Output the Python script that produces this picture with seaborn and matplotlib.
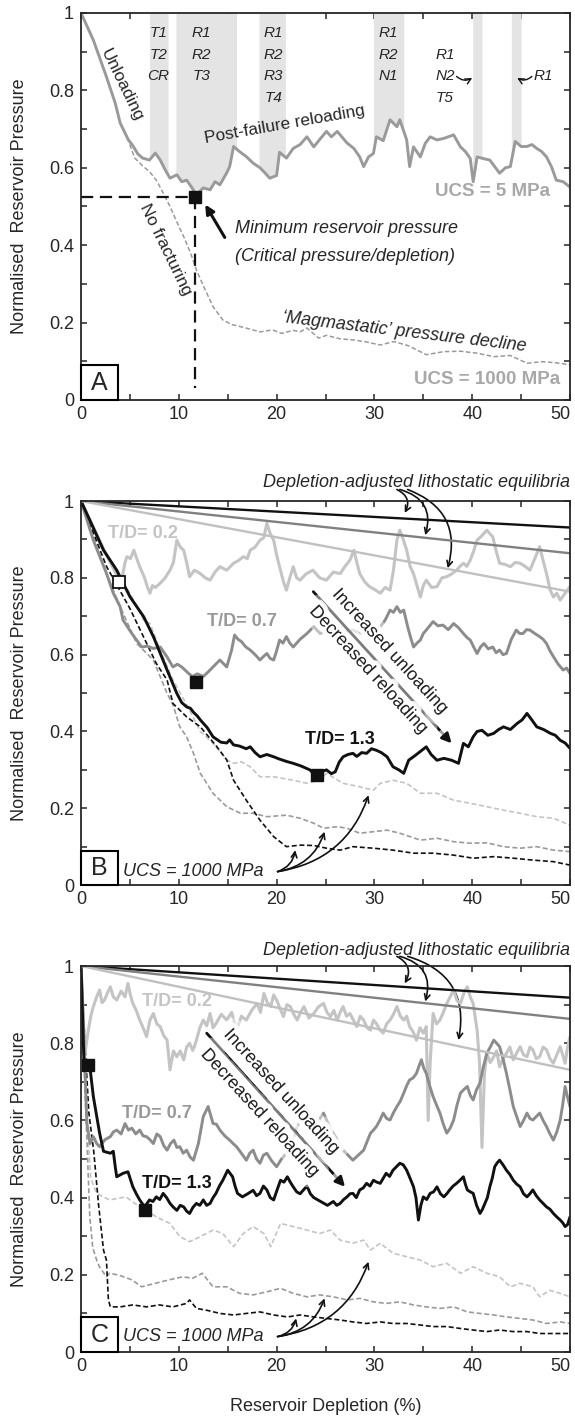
import numpy as np
import matplotlib
matplotlib.use("Agg")
import matplotlib.pyplot as plt
import matplotlib.patheffects as pe
from matplotlib.patches import Rectangle
import seaborn as sns

# ---------------------------------------------------------------- data
X_TICKS = [0, 10, 20, 30, 40, 50]
X_MINOR = [5, 15, 25, 35, 45]
Y_TICKS = [0, 0.2, 0.4, 0.6, 0.8, 1.0]
Y_MINOR = [0.1, 0.3, 0.5, 0.7, 0.9]
Y_TICK_LABELS = ["0", "0.2", "0.4", "0.6", "0.8", "1"]
X_TICK_LABELS = ["0", "10", "20", "30", "40", "50"]

# Panel A: UCS = 5 MPa reservoir pressure path (depletion %, normalised pressure)
A_UCS5 = [(0, 1.0), (1.26, 0.93), (2.6, 0.835), (3.5, 0.767), (4.0, 0.716), (4.5, 0.69),
          (4.8, 0.674), (5.3, 0.657), (5.8, 0.636), (6.3, 0.625), (7.0, 0.62), (7.6, 0.638),
          (8.1, 0.62), (8.6, 0.595), (9.1, 0.573), (9.8, 0.582), (10.3, 0.564), (10.8, 0.568),
          (11.3, 0.55), (11.8, 0.53), (12.5, 0.548), (13.2, 0.543), (13.7, 0.564), (14.2, 0.556),
          (14.9, 0.587), (15.2, 0.603), (15.6, 0.655), (16.2, 0.642), (16.9, 0.629), (17.6, 0.612),
          (18.3, 0.60), (18.8, 0.587), (19.3, 0.573), (20.0, 0.58), (20.3, 0.64), (21.0, 0.625),
          (21.7, 0.65), (22.4, 0.66), (23.1, 0.68), (23.8, 0.654), (24.5, 0.676), (25.1, 0.694),
          (25.6, 0.68), (26.2, 0.694), (27.2, 0.664), (27.9, 0.65), (28.5, 0.628), (28.9, 0.603),
          (29.4, 0.628), (29.9, 0.637), (30.2, 0.68), (30.9, 0.67), (31.6, 0.724), (32.3, 0.706),
          (32.6, 0.724), (33.3, 0.672), (33.6, 0.603), (34.0, 0.654), (34.7, 0.628), (35.2, 0.663),
          (35.7, 0.68), (36.4, 0.672), (37.1, 0.676), (38.1, 0.685), (38.8, 0.654), (39.3, 0.642),
          (39.8, 0.624), (40.1, 0.564), (40.5, 0.628), (41.1, 0.624), (41.8, 0.62), (42.3, 0.603),
          (42.8, 0.586), (43.4, 0.60), (43.9, 0.603), (44.4, 0.668), (45.0, 0.655), (45.6, 0.655),
          (46.1, 0.66), (46.6, 0.65), (47.1, 0.642), (47.6, 0.628), (48.1, 0.603), (48.6, 0.568),
          (49.3, 0.564), (50.0, 0.55)]

# Panel A: UCS = 1000 MPa (no fracturing) pressure path
A_UCS1000 = [(0, 1.0), (1.26, 0.93), (2.6, 0.835), (3.5, 0.767), (4.0, 0.716), (4.8, 0.672),
             (5.5, 0.625), (6.3, 0.605), (7.0, 0.59), (7.7, 0.568), (8.4, 0.535), (9.1, 0.50),
             (9.8, 0.46), (10.5, 0.422), (11.2, 0.38), (11.8, 0.336), (12.6, 0.29), (13.5, 0.241),
             (14.5, 0.207), (15.4, 0.195), (16.4, 0.189), (17.3, 0.183), (18.3, 0.176), (19.6, 0.181),
             (20.5, 0.172), (21.7, 0.18), (22.4, 0.176), (23.1, 0.186), (24.3, 0.16), (25.1, 0.167),
             (26.5, 0.158), (27.9, 0.155), (29.2, 0.15), (30.6, 0.142), (32.0, 0.151), (33.5, 0.14),
             (35.3, 0.117), (37.1, 0.125), (38.8, 0.126), (40.5, 0.121), (42.2, 0.112), (43.9, 0.115),
             (45.6, 0.095), (47.2, 0.099), (48.6, 0.096), (50.0, 0.091)]

A_CRITICAL = (11.7, 0.525)
A_BANDS = [(7.0, 8.9), (9.7, 15.9), (18.2, 20.9), (29.9, 33.0), (40.05, 41.0), (44.0, 45.0)]
A_BAND_TAGS = [(7.9, 0, ["T1", "T2", "CR"]),
               (12.3, 0, ["R1", "R2", "T3"]),
               (19.7, 0, ["R1", "R2", "R3", "T4"]),
               (31.4, 0, ["R1", "R2", "N1"]),
               (37.2, 1, ["R1", "N2", "T5"])]
TAG_ROWS = [0.948, 0.892, 0.836, 0.780]

# Panel B: fracture paths for three T/D ratios
B_TD02 = [(0, 1.0), (1.3, 0.93), (2.6, 0.86), (3.9, 0.795), (4.2, 0.80), (4.5, 0.84),
          (4.7, 0.855), (5.05, 0.85), (5.4, 0.872), (5.7, 0.85), (6.0, 0.829), (6.5, 0.80),
          (6.8, 0.775), (7.05, 0.76), (7.3, 0.78), (7.6, 0.775), (8.1, 0.786), (8.6, 0.80),
          (9.1, 0.82), (9.45, 0.84), (9.8, 0.898), (10.15, 0.88), (10.5, 0.872), (10.8, 0.84),
          (11.1, 0.803), (11.6, 0.82), (12.2, 0.811), (12.7, 0.80), (13.2, 0.794), (13.7, 0.815),
          (14.2, 0.829), (14.9, 0.82), (15.6, 0.838), (16.1, 0.845), (16.6, 0.855), (17.0, 0.85),
          (17.3, 0.872), (17.8, 0.88), (18.3, 0.898), (18.7, 0.905), (19.0, 0.942), (19.35, 0.915),
          (19.7, 0.898), (20.0, 0.86), (20.3, 0.829), (20.7, 0.79), (21.0, 0.768), (21.35, 0.80),
          (21.7, 0.829), (22.05, 0.80), (22.4, 0.794), (23.0, 0.81), (23.7, 0.82), (24.4, 0.80),
          (25.1, 0.794), (25.8, 0.815), (26.5, 0.811), (27.0, 0.83), (27.5, 0.846), (27.9, 0.872),
          (28.2, 0.84), (28.5, 0.811), (29.0, 0.79), (29.5, 0.777), (30.0, 0.77), (30.6, 0.76),
          (31.1, 0.775), (31.6, 0.768), (31.95, 0.82), (32.3, 0.898), (32.6, 0.924), (32.95, 0.90),
          (33.3, 0.872), (33.65, 0.83), (34.0, 0.811), (34.35, 0.78), (34.7, 0.75), (35.0, 0.78),
          (35.3, 0.794), (35.85, 0.775), (36.4, 0.777), (36.9, 0.80), (37.4, 0.803), (37.9, 0.81),
          (38.4, 0.82), (38.75, 0.83), (39.1, 0.838), (39.45, 0.83), (39.8, 0.846), (40.15, 0.87),
          (40.5, 0.898), (41.0, 0.91), (41.5, 0.924), (41.8, 0.915), (42.1, 0.907), (42.45, 0.87),
          (42.8, 0.838), (43.35, 0.835), (43.9, 0.829), (44.4, 0.84), (44.9, 0.838), (45.4, 0.83),
          (45.9, 0.82), (46.4, 0.85), (46.9, 0.881), (47.25, 0.845), (47.6, 0.811), (47.95, 0.77),
          (48.3, 0.75), (48.65, 0.76), (49.0, 0.742), (49.5, 0.76), (50.0, 0.777)]
B_TD07 = [(0, 1.0), (1.26, 0.898), (2.6, 0.812), (3.3, 0.76), (4.0, 0.725), (4.3, 0.69),
          (5.2, 0.655), (6.2, 0.62), (6.8, 0.622), (7.4, 0.616), (8.1, 0.62), (8.8, 0.594),
          (9.4, 0.568), (9.85, 0.575), (10.3, 0.568), (11.0, 0.551), (11.4, 0.543), (11.9, 0.55),
          (12.5, 0.543), (13.0, 0.555), (13.5, 0.568), (14.2, 0.586), (14.9, 0.568), (15.4, 0.612),
          (15.7, 0.651), (16.05, 0.64), (16.4, 0.634), (16.85, 0.62), (17.3, 0.612), (17.8, 0.6),
          (18.3, 0.586), (18.65, 0.595), (19.0, 0.603), (19.35, 0.59), (19.7, 0.586), (20.0, 0.61),
          (20.3, 0.638), (20.65, 0.63), (21.0, 0.647), (21.35, 0.63), (21.7, 0.62), (22.4, 0.64),
          (23.1, 0.655), (23.8, 0.673), (24.45, 0.655), (25.1, 0.66), (25.8, 0.665), (26.5, 0.673),
          (27.15, 0.66), (27.8, 0.664), (28.5, 0.655), (29.2, 0.66), (29.9, 0.665), (30.6, 0.673),
          (31.1, 0.69), (31.6, 0.716), (31.95, 0.71), (32.3, 0.725), (32.65, 0.71), (33.0, 0.716),
          (33.4, 0.673), (33.7, 0.645), (34.0, 0.62), (34.35, 0.63), (34.7, 0.638), (35.0, 0.655),
          (35.3, 0.664), (35.65, 0.675), (36.0, 0.686), (36.5, 0.675), (37.0, 0.677), (37.55, 0.665),
          (38.1, 0.681), (38.6, 0.67), (39.1, 0.655), (39.45, 0.645), (39.8, 0.638), (40.15, 0.62),
          (40.5, 0.603), (40.85, 0.62), (41.2, 0.629), (41.65, 0.615), (42.1, 0.62), (42.45, 0.605),
          (42.8, 0.612), (43.15, 0.6), (43.5, 0.603), (44.0, 0.64), (44.5, 0.664), (44.85, 0.655),
          (45.2, 0.655), (45.55, 0.665), (45.9, 0.664), (46.4, 0.655), (46.9, 0.647), (47.25, 0.64),
          (47.6, 0.629), (47.95, 0.61), (48.3, 0.595), (48.8, 0.575), (49.3, 0.56), (49.65, 0.565),
          (50.0, 0.551)]
B_TD13 = [(0, 1.0), (2.3, 0.872), (3.65, 0.82), (5.0, 0.751), (6.4, 0.699), (7.4, 0.647),
          (8.8, 0.56), (9.8, 0.499), (10.3, 0.475), (10.8, 0.464), (11.2, 0.46), (11.5, 0.45),
          (11.9, 0.44), (12.2, 0.43), (12.9, 0.41), (13.5, 0.386), (14.3, 0.372), (14.9, 0.37),
          (15.2, 0.378), (15.6, 0.365), (16.2, 0.362), (16.9, 0.355), (17.3, 0.36), (17.8, 0.345),
          (18.3, 0.334), (19.0, 0.34), (19.7, 0.334), (20.3, 0.328), (21.0, 0.322), (21.7, 0.317),
          (22.5, 0.31), (23.4, 0.30), (24.1, 0.282), (24.6, 0.295), (25.1, 0.30), (25.6, 0.29),
          (26.0, 0.295), (26.4, 0.32), (26.8, 0.334), (27.3, 0.34), (27.8, 0.343), (28.2, 0.335),
          (28.7, 0.345), (29.2, 0.343), (29.7, 0.355), (30.2, 0.351), (30.7, 0.345), (31.3, 0.334),
          (31.9, 0.308), (32.5, 0.30), (33.0, 0.291), (33.5, 0.325), (34.2, 0.338), (34.8, 0.35),
          (35.3, 0.36), (35.8, 0.34), (36.4, 0.325), (37.1, 0.33), (37.9, 0.325), (38.6, 0.317),
          (39.1, 0.369), (39.6, 0.36), (40.1, 0.386), (40.5, 0.40), (41.0, 0.403), (41.6, 0.39),
          (42.2, 0.395), (42.7, 0.405), (43.2, 0.412), (43.9, 0.405), (44.6, 0.421), (45.1, 0.43),
          (45.6, 0.447), (46.1, 0.43), (46.6, 0.412), (47.3, 0.405), (48.0, 0.395), (48.5, 0.39),
          (49.0, 0.377), (49.5, 0.37), (50.0, 0.356)]
B_UCS_LIGHT = [(0, 1.0), (3.0, 0.84), (5.0, 0.76), (6.4, 0.69), (7.05, 0.681), (8.1, 0.612),
               (9.4, 0.534), (10.8, 0.47), (12.2, 0.40), (13.5, 0.369), (14.9, 0.326), (15.6, 0.317),
               (16.4, 0.321), (17.3, 0.308), (18.3, 0.282), (19.7, 0.282), (21.7, 0.273), (23.1, 0.265),
               (24.4, 0.273), (25.1, 0.291), (26.8, 0.265), (28.5, 0.256), (29.9, 0.247), (30.6, 0.265),
               (31.9, 0.273), (33.3, 0.265), (34.7, 0.239), (36.4, 0.239), (38.1, 0.221), (39.8, 0.213),
               (41.5, 0.204), (43.2, 0.195), (44.9, 0.187), (46.6, 0.178), (48.3, 0.174), (50.0, 0.156)]
B_UCS_MID = [(0, 1.0), (2.6, 0.81), (4.0, 0.725), (5.7, 0.629), (7.4, 0.586), (8.8, 0.499),
             (9.4, 0.47), (10.1, 0.412), (10.8, 0.386), (11.5, 0.343), (12.2, 0.291), (13.5, 0.239),
             (14.9, 0.204), (16.3, 0.187), (17.6, 0.187), (19.0, 0.178), (21.0, 0.182), (22.4, 0.174),
             (23.8, 0.161), (24.8, 0.148), (26.2, 0.152), (27.2, 0.148), (28.5, 0.135), (29.9, 0.139),
             (31.3, 0.143), (32.6, 0.135), (34.7, 0.117), (36.4, 0.122), (38.1, 0.113), (39.8, 0.109),
             (41.5, 0.11), (43.2, 0.10), (44.9, 0.096), (46.6, 0.10), (48.3, 0.091), (50.0, 0.087)]
B_UCS_DARK = [(0, 1.0), (2.6, 0.83), (5.0, 0.72), (7.7, 0.577), (8.8, 0.534), (9.4, 0.473),
              (10.8, 0.438), (12.2, 0.412), (13.9, 0.36), (14.9, 0.326), (15.6, 0.273), (16.9, 0.221),
              (18.3, 0.169), (19.7, 0.126), (21.0, 0.10), (22.4, 0.104), (23.8, 0.103), (25.1, 0.096),
              (26.5, 0.091), (27.8, 0.10), (29.9, 0.096), (31.9, 0.091), (34.0, 0.083), (36.0, 0.083),
              (38.1, 0.078), (40.1, 0.07), (42.2, 0.074), (44.2, 0.07), (46.2, 0.065), (48.3, 0.061),
              (50.0, 0.052)]
B_LITHO_END = [0.931, 0.864, 0.764]
B_MARK_OPEN = [(3.9, 0.79)]
B_MARK_FILLED = [(11.8, 0.53), (24.1, 0.286)]

# Panel C: fracture paths for three T/D ratios
C_TD02 = [(0, 1.0), (0.4, 0.774), (0.75, 0.834), (1.0, 0.87), (1.26, 0.895), (1.6, 0.92),
          (1.9, 0.938), (2.15, 0.905), (2.4, 0.912), (2.7, 0.93), (3.0, 0.946), (3.3, 0.92),
          (3.65, 0.912), (4.1, 0.935), (4.5, 0.92), (4.8, 0.955), (5.05, 0.925), (5.3, 0.903),
          (5.65, 0.885), (6.0, 0.86), (6.35, 0.84), (6.7, 0.817), (7.05, 0.86), (7.4, 0.877),
          (7.75, 0.85), (8.1, 0.843), (8.45, 0.82), (8.8, 0.808), (9.1, 0.731), (9.45, 0.78),
          (9.8, 0.765), (10.15, 0.78), (10.5, 0.757), (10.8, 0.79), (11.1, 0.80), (11.45, 0.78),
          (11.8, 0.808), (12.15, 0.84), (12.5, 0.86), (12.85, 0.845), (13.2, 0.877), (13.5, 0.84),
          (13.8, 0.851), (14.35, 0.875), (14.9, 0.86), (15.4, 0.88), (15.9, 0.834), (16.4, 0.87),
          (16.9, 0.86), (17.45, 0.885), (18.0, 0.903), (18.35, 0.88), (18.7, 0.929), (19.05, 0.905),
          (19.4, 0.895), (19.7, 0.925), (20.0, 0.912), (20.35, 0.89), (20.7, 0.869), (21.05, 0.90),
          (21.4, 0.895), (21.75, 0.875), (22.1, 0.86), (22.45, 0.88), (22.8, 0.895), (23.3, 0.865),
          (23.8, 0.877), (24.3, 0.895), (24.8, 0.903), (25.15, 0.88), (25.5, 0.869), (25.85, 0.885),
          (26.2, 0.86), (26.5, 0.88), (26.8, 0.895), (27.15, 0.87), (27.5, 0.877), (27.85, 0.86),
          (28.2, 0.843), (28.55, 0.87), (28.9, 0.86), (29.25, 0.84), (29.6, 0.834), (29.9, 0.86),
          (30.2, 0.851), (30.55, 0.835), (30.9, 0.826), (31.25, 0.85), (31.6, 0.86), (31.95, 0.875),
          (32.3, 0.895), (32.65, 0.87), (33.0, 0.86), (33.3, 0.87), (33.6, 0.843), (33.95, 0.83),
          (34.3, 0.808), (34.65, 0.84), (35.0, 0.826), (35.3, 0.843), (35.5, 0.60), (35.7, 0.748),
          (36.0, 0.877), (36.35, 0.85), (36.7, 0.86), (37.05, 0.88), (37.4, 0.903), (37.75, 0.92),
          (38.1, 0.938), (38.45, 0.91), (38.8, 0.903), (39.15, 0.93), (39.5, 0.946), (39.8, 0.92),
          (40.1, 0.903), (40.5, 0.834), (40.75, 0.75), (41.0, 0.53), (41.25, 0.72), (41.5, 0.774),
          (41.85, 0.75), (42.2, 0.765), (42.5, 0.78), (42.8, 0.739), (43.15, 0.76), (43.5, 0.774),
          (43.85, 0.79), (44.2, 0.757), (44.55, 0.775), (44.9, 0.791), (45.25, 0.77), (45.6, 0.765),
          (45.9, 0.79), (46.2, 0.783), (46.55, 0.76), (46.9, 0.765), (47.25, 0.79), (47.6, 0.783),
          (47.95, 0.76), (48.3, 0.748), (48.65, 0.77), (49.0, 0.791), (49.25, 0.77), (49.5, 0.748),
          (49.75, 0.79), (50.0, 0.817)]
C_TD07 = [(0, 1.0), (0.24, 0.852), (0.6, 0.592), (0.92, 0.54), (1.26, 0.558), (1.6, 0.54),
          (1.9, 0.532), (2.45, 0.55), (3.0, 0.558), (3.3, 0.57), (3.65, 0.575), (4.1, 0.565),
          (4.5, 0.592), (4.85, 0.575), (5.2, 0.58), (5.6, 0.565), (6.0, 0.575), (6.35, 0.56),
          (6.7, 0.558), (7.05, 0.55), (7.4, 0.54), (7.75, 0.565), (8.1, 0.558), (8.45, 0.535),
          (8.8, 0.523), (9.15, 0.54), (9.5, 0.549), (9.8, 0.53), (10.1, 0.532), (10.45, 0.515),
          (10.8, 0.523), (11.15, 0.505), (11.5, 0.497), (12.0, 0.54), (12.5, 0.61), (13.0, 0.636),
          (13.5, 0.592), (13.85, 0.59), (14.2, 0.575), (14.7, 0.56), (15.2, 0.549), (15.55, 0.54),
          (15.9, 0.532), (16.4, 0.515), (16.9, 0.497), (17.25, 0.515), (17.6, 0.523), (17.95, 0.5),
          (18.3, 0.489), (18.65, 0.51), (19.0, 0.515), (19.5, 0.495), (20.0, 0.48), (20.5, 0.50),
          (21.0, 0.515), (21.35, 0.535), (21.7, 0.549), (22.05, 0.58), (22.4, 0.601), (22.75, 0.62),
          (23.1, 0.636), (23.45, 0.60), (23.8, 0.584), (24.3, 0.60), (24.8, 0.619), (25.3, 0.59),
          (25.8, 0.567), (26.3, 0.545), (26.8, 0.523), (27.3, 0.51), (27.8, 0.497), (28.35, 0.51),
          (28.9, 0.523), (29.25, 0.545), (29.6, 0.567), (29.9, 0.575), (30.2, 0.584), (30.55, 0.60),
          (30.9, 0.619), (31.25, 0.605), (31.6, 0.601), (31.95, 0.62), (32.3, 0.636), (32.65, 0.65),
          (33.0, 0.671), (33.3, 0.69), (33.6, 0.705), (33.95, 0.71), (34.3, 0.722), (34.55, 0.74),
          (34.8, 0.757), (35.05, 0.735), (35.3, 0.722), (35.65, 0.69), (36.0, 0.662), (36.35, 0.64),
          (36.7, 0.619), (37.05, 0.59), (37.4, 0.567), (37.75, 0.58), (38.1, 0.601), (38.45, 0.64),
          (38.8, 0.671), (39.15, 0.68), (39.5, 0.688), (39.8, 0.665), (40.1, 0.653), (40.45, 0.68),
          (40.8, 0.697), (41.15, 0.74), (41.5, 0.774), (41.85, 0.79), (42.2, 0.808), (42.5, 0.80),
          (42.8, 0.791), (43.15, 0.76), (43.5, 0.722), (43.85, 0.68), (44.2, 0.636), (44.55, 0.61),
          (44.9, 0.584), (45.25, 0.60), (45.6, 0.619), (45.9, 0.605), (46.2, 0.601), (46.55, 0.61),
          (46.9, 0.619), (47.25, 0.60), (47.6, 0.584), (47.95, 0.565), (48.3, 0.549), (48.65, 0.57),
          (49.0, 0.601), (49.25, 0.64), (49.5, 0.688), (49.75, 0.66), (50.0, 0.636)]
C_TD13 = [(0, 1.0), (0.3, 0.75), (0.9, 0.74), (1.26, 0.662), (1.9, 0.567), (2.3, 0.52),
          (3.0, 0.515), (3.3, 0.52), (3.5, 0.48), (3.65, 0.454), (4.3, 0.463), (4.8, 0.467),
          (5.3, 0.428), (5.65, 0.41), (6.0, 0.394), (6.5, 0.376), (7.0, 0.394), (7.35, 0.39),
          (7.7, 0.402), (8.05, 0.395), (8.4, 0.411), (8.75, 0.40), (9.1, 0.385), (9.45, 0.375),
          (9.8, 0.367), (10.15, 0.38), (10.5, 0.376), (10.8, 0.365), (11.1, 0.359), (11.45, 0.375),
          (11.8, 0.385), (12.15, 0.38), (12.5, 0.394), (12.85, 0.38), (13.2, 0.385), (13.5, 0.40),
          (13.8, 0.411), (14.15, 0.43), (14.5, 0.445), (15.0, 0.471), (15.5, 0.454), (15.75, 0.43),
          (16.0, 0.411), (16.5, 0.402), (17.05, 0.41), (17.6, 0.419), (17.95, 0.405), (18.3, 0.411),
          (18.65, 0.43), (19.0, 0.42), (19.35, 0.40), (19.7, 0.394), (20.05, 0.42), (20.4, 0.445),
          (20.75, 0.44), (21.1, 0.454), (21.4, 0.44), (21.7, 0.428), (22.05, 0.415), (22.4, 0.41),
          (22.75, 0.42), (23.1, 0.43), (23.45, 0.41), (23.8, 0.40), (24.15, 0.395), (24.5, 0.39),
          (24.85, 0.385), (25.2, 0.38), (25.5, 0.385), (25.8, 0.39), (26.15, 0.38), (26.5, 0.385),
          (26.85, 0.395), (27.2, 0.402), (27.5, 0.41), (27.8, 0.411), (28.15, 0.40), (28.5, 0.42),
          (28.85, 0.425), (29.2, 0.437), (29.55, 0.43), (29.9, 0.445), (30.25, 0.44), (30.6, 0.437),
          (30.9, 0.45), (31.2, 0.463), (31.55, 0.455), (31.9, 0.471), (32.25, 0.48), (32.6, 0.489),
          (32.95, 0.485), (33.3, 0.471), (33.65, 0.45), (34.0, 0.428), (34.25, 0.40), (34.5, 0.342),
          (34.75, 0.38), (35.0, 0.402), (35.35, 0.395), (35.7, 0.411), (36.05, 0.415), (36.4, 0.428),
          (36.75, 0.41), (37.1, 0.402), (37.4, 0.41), (37.7, 0.42), (38.05, 0.43), (38.4, 0.437),
          (38.75, 0.445), (39.1, 0.454), (39.3, 0.435), (39.5, 0.42), (39.8, 0.415), (40.1, 0.411),
          (40.45, 0.38), (40.8, 0.359), (41.05, 0.37), (41.3, 0.385), (41.55, 0.40), (41.8, 0.428),
          (42.05, 0.45), (42.3, 0.48), (42.55, 0.49), (42.8, 0.497), (43.15, 0.485), (43.5, 0.471),
          (43.85, 0.46), (44.2, 0.445), (44.55, 0.435), (44.9, 0.428), (45.25, 0.41), (45.6, 0.402),
          (45.9, 0.41), (46.2, 0.42), (46.55, 0.405), (46.9, 0.394), (47.25, 0.385), (47.6, 0.376),
          (47.95, 0.37), (48.3, 0.359), (48.65, 0.35), (49.0, 0.342), (49.25, 0.335), (49.5, 0.325),
          (49.75, 0.33), (50.0, 0.35)]
C_UCS_LIGHT = [(0, 1.0), (0.3, 0.8), (0.6, 0.6), (1.0, 0.45), (1.6, 0.411), (2.9, 0.394),
               (4.6, 0.402), (5.5, 0.385), (6.7, 0.368), (7.7, 0.35), (9.1, 0.333), (10.1, 0.299),
               (11.1, 0.286), (12.2, 0.299), (13.5, 0.316), (14.5, 0.307), (15.6, 0.273), (16.6, 0.307),
               (17.6, 0.325), (18.7, 0.307), (19.4, 0.273), (20.4, 0.333), (21.7, 0.325), (23.1, 0.316),
               (24.4, 0.307), (25.5, 0.316), (26.5, 0.29), (27.8, 0.282), (28.9, 0.29), (29.6, 0.264),
               (30.6, 0.282), (31.9, 0.256), (33.3, 0.247), (34.7, 0.238), (36.0, 0.221), (37.4, 0.23),
               (38.8, 0.204), (40.1, 0.221), (41.5, 0.204), (42.8, 0.195), (43.9, 0.169), (44.9, 0.178),
               (46.2, 0.169), (46.9, 0.143), (47.9, 0.16), (49.0, 0.152), (50.0, 0.143)]
C_UCS_MID = [(0, 1.0), (0.3, 0.75), (0.6, 0.55), (0.9, 0.35), (1.2, 0.27), (1.6, 0.238),
             (1.9, 0.22), (2.6, 0.195), (2.9, 0.204), (3.9, 0.199), (5.2, 0.187), (6.2, 0.169),
             (7.6, 0.178), (9.0, 0.187), (10.4, 0.195), (11.4, 0.191), (12.4, 0.204), (13.5, 0.169),
             (14.9, 0.169), (16.2, 0.152), (17.6, 0.148), (19.0, 0.156), (20.4, 0.165), (21.7, 0.152),
             (23.1, 0.143), (24.4, 0.148), (25.8, 0.143), (27.2, 0.135), (28.5, 0.139), (29.9, 0.13),
             (31.2, 0.126), (32.6, 0.13), (34.0, 0.122), (35.3, 0.117), (36.7, 0.113), (38.1, 0.117),
             (39.5, 0.104), (40.8, 0.10), (42.2, 0.096), (43.5, 0.091), (44.9, 0.087), (46.2, 0.083),
             (47.6, 0.074), (49.0, 0.078), (50.0, 0.074)]
C_UCS_DARK = [(0, 1.0), (0.4, 0.8), (0.8, 0.62), (1.3, 0.52), (1.8, 0.38), (2.3, 0.264),
              (2.6, 0.238), (2.8, 0.135), (3.0, 0.117), (4.0, 0.117), (5.3, 0.122), (6.7, 0.117),
              (8.0, 0.122), (9.4, 0.117), (10.8, 0.126), (11.1, 0.135), (11.8, 0.113), (12.9, 0.108),
              (14.2, 0.10), (15.6, 0.096), (16.9, 0.10), (18.3, 0.104), (19.7, 0.096), (21.1, 0.091),
              (22.4, 0.096), (23.8, 0.091), (25.1, 0.087), (26.5, 0.083), (27.8, 0.078), (29.2, 0.074),
              (30.6, 0.078), (31.9, 0.074), (33.3, 0.074), (34.7, 0.07), (36.0, 0.066), (37.4, 0.066),
              (38.8, 0.061), (40.1, 0.057), (41.5, 0.053), (42.8, 0.057), (44.2, 0.053), (45.6, 0.053),
              (46.9, 0.048), (48.3, 0.048), (50.0, 0.048)]
C_LITHO_END = [0.918, 0.863, 0.731]
C_MARK_FILLED = [(0.75, 0.743), (6.5, 0.368)]

# ---------------------------------------------------------------- style
sns.set_style("ticks")
plt.rcParams["font.family"] = ["Liberation Sans", "DejaVu Sans"]
plt.rcParams["axes.linewidth"] = 1.3

BLACK = "#111111"
MID = "#8c8c8c"
LIGHT = "#c4c4c4"
A_GRAY = "#9a9a9a"
BAND = "#e4e4e4"
DASH = (0, (3, 1.6))

GLOW = [pe.Stroke(linewidth=14, foreground="white", alpha=0.45),
        pe.Stroke(linewidth=7, foreground="white", alpha=0.9),
        pe.Normal()]


def xy(pts):
    arr = np.asarray(pts, dtype=float)
    return arr[:, 0], arr[:, 1]


def curve(ax, pts, color, lw, ls="-", z=3):
    x, y = xy(pts)
    sns.lineplot(x=x, y=y, ax=ax, color=color, lw=lw, linestyle=ls,
                 sort=False, estimator=None, legend=False, zorder=z)


def frame(ax, letter):
    ax.set_xlim(0, 50)
    ax.set_ylim(0, 1)
    ax.set_xticks(X_TICKS)
    ax.set_xticklabels(X_TICK_LABELS)
    ax.set_xticks(X_MINOR, minor=True)
    ax.set_yticks(Y_TICKS)
    ax.set_yticklabels(Y_TICK_LABELS)
    ax.set_yticks(Y_MINOR, minor=True)
    ax.tick_params(which="both", direction="in", top=True, right=True,
                   length=4, width=1.1, labelsize=13)
    ax.tick_params(axis="x", pad=4)
    ax.tick_params(axis="y", pad=5)
    # keep the last x label inside the figure edge
    ax.get_xticklabels()[-1].set_horizontalalignment("right")
    ax.get_xticklabels()[-1].set_x(50)
    ax.set_xlabel("")
    ax.set_ylabel("Normalised  Reservoir Pressure", fontsize=13)
    ax.yaxis.set_label_coords(-0.108, 0.5)
    for s in ax.spines.values():
        s.set_visible(True)
        s.set_linewidth(1.3)
        s.set_zorder(8)
    ax.add_patch(Rectangle((0, 0), 0.0757, 0.09, transform=ax.transAxes,
                           fc="white", ec="black", lw=1.5, zorder=9, clip_on=False))
    ax.text(0.0378, 0.045, letter, transform=ax.transAxes, ha="center",
            va="center", fontsize=18, zorder=10)


def litho(ax, ends, text_y, targets, starts):
    for end, col in zip(ends, [BLACK, "#808080", "#c0c0c0"]):
        curve(ax, [(0, 1.0), (50, end)], col, 1.7, z=4)
    ax.text(50, text_y, "Depletion-adjusted lithostatic equilibria", ha="right",
            va="center", fontsize=13, style="italic", clip_on=False)
    for s, t, rad in zip(starts, targets, [-0.5, -0.5, -0.45]):
        ax.annotate("", xy=t, xytext=s, annotation_clip=False,
                    arrowprops=dict(arrowstyle="->", color=BLACK, lw=1.2,
                                    connectionstyle=f"arc3,rad={rad}",
                                    shrinkA=0, shrinkB=0))


def ucs_note(ax, y_text, targets):
    ax.text(4.3, y_text, "UCS = 1000 MPa", ha="left", va="center",
            fontsize=13, style="italic", zorder=10)
    for t in targets:
        ax.annotate("", xy=t, xytext=(20.1, y_text), annotation_clip=False,
                    arrowprops=dict(arrowstyle="->", color=BLACK, lw=1.2,
                                    connectionstyle="arc3,rad=0.3",
                                    shrinkA=0, shrinkB=0), zorder=6)


def trend_arrow(ax, start, end, up_pos, down_pos, angle):
    ann = ax.annotate("", xy=end, xytext=start,
                      arrowprops=dict(arrowstyle="-|>", color=BLACK, lw=2.0,
                                      mutation_scale=14, shrinkA=0, shrinkB=0),
                      zorder=7)
    ann.arrow_patch.set_path_effects([pe.Stroke(linewidth=9, foreground="white", alpha=0.6),
                                      pe.Normal()])
    for pos, label in [(up_pos, "Increased unloading"), (down_pos, "Decreased reloading")]:
        ax.text(pos[0], pos[1], label, rotation=angle, rotation_mode="anchor",
                ha="center", va="center", fontsize=13, color="#222222",
                path_effects=GLOW, zorder=7)


def td_labels(ax, spots):
    for (x, y), txt, col in zip(spots, ["T/D= 0.2", "T/D= 0.7", "T/D= 1.3"],
                                [LIGHT, "#999999", BLACK]):
        ax.text(x, y, txt, ha="center", va="center", fontsize=13,
                fontweight="bold", color=col, zorder=8)


fig = plt.figure(figsize=(5.75, 14.25), dpi=100)
axA = fig.add_axes([0.1409, 0.7193, 0.8504, 0.2716])
axB = fig.add_axes([0.1409, 0.3789, 0.8504, 0.2695])
axC = fig.add_axes([0.1409, 0.0512, 0.8504, 0.2709])

# ---------------------------------------------------------------- panel A
ax = axA
ux, uy = xy(A_UCS5)
for x0, x1 in A_BANDS:
    xs = np.linspace(x0, x1, 80)
    ax.fill_between(xs, np.interp(xs, ux, uy), 1.0, color=BAND, lw=0, zorder=1)
curve(ax, A_UCS1000, A_GRAY, 1.1, ls=DASH, z=2)
curve(ax, A_UCS5, A_GRAY, 2.1, z=3)
cx, cy = A_CRITICAL
ax.plot([0, cx], [cy, cy], color=BLACK, lw=1.6, ls=(0, (5.5, 3)), zorder=4)
ax.plot([cx, cx], [cy, 0.03], color=BLACK, lw=1.6, ls=(0, (5.5, 3)), zorder=4)
ax.plot([cx], [cy], marker="s", ms=8, color=BLACK, zorder=6)
for x, start, tags in A_BAND_TAGS:
    for i, tag in enumerate(tags):
        ax.text(x, TAG_ROWS[start + i], tag, ha="center", va="center",
                fontsize=11, style="italic", zorder=5)
ax.annotate("", xy=(40.0, 0.832), xytext=(38.4, 0.836),
            arrowprops=dict(arrowstyle="->", color=BLACK, lw=1.0,
                            connectionstyle="arc3,rad=0.35", shrinkA=0, shrinkB=0))
ax.annotate("", xy=(44.6, 0.832), xytext=(46.1, 0.836),
            arrowprops=dict(arrowstyle="->", color=BLACK, lw=1.0,
                            connectionstyle="arc3,rad=-0.35", shrinkA=0, shrinkB=0))
ax.text(46.3, 0.836, "R1", ha="left", va="center", fontsize=11, style="italic")
ax.text(4.15, 0.814, "Unloading", rotation=-64, rotation_mode="anchor",
        ha="center", va="center", fontsize=12.5, zorder=5)
ax.text(20.8, 0.711, "Post-failure reloading", rotation=10, rotation_mode="anchor",
        ha="center", va="center", fontsize=12.3, zorder=5)
ax.text(8.7, 0.39, "No fracturing", rotation=-64, rotation_mode="anchor",
        ha="center", va="center", fontsize=12.5, zorder=5)
ax.text(33.0, 0.176, "\u2018Magmastatic\u2019 pressure decline", rotation=-6.8,
        rotation_mode="anchor", ha="center", va="center", fontsize=13,
        style="italic", zorder=5)
ax.annotate("", xy=(12.7, 0.505), xytext=(14.7, 0.42),
            arrowprops=dict(arrowstyle="-|>", color=BLACK, lw=2.2,
                            mutation_scale=13, shrinkA=0, shrinkB=0))
ax.text(15.7, 0.444, "Minimum reservoir pressure", ha="left", va="center",
        fontsize=13, style="italic")
ax.text(15.7, 0.37, "(Critical pressure/depletion)", ha="left", va="center",
        fontsize=13, style="italic")
ax.text(47.95, 0.54, "UCS = 5 MPa", ha="right", va="center", fontsize=13.5,
        fontweight="bold", color="#a8a8a8", zorder=5)
ax.text(48.98, 0.052, "UCS = 1000 MPa", ha="right", va="center", fontsize=13.5,
        fontweight="bold", color="#a8a8a8", zorder=5)
frame(ax, "A")

# ---------------------------------------------------------------- panel B
ax = axB
litho(ax, B_LITHO_END, 1.047,
      targets=[(33.1, 0.969), (35.2, 0.911), (37.5, 0.825)],
      starts=[(32.3, 1.03), (32.6, 1.03), (33.4, 1.03)])
curve(ax, B_UCS_LIGHT, LIGHT, 1.2, ls=DASH, z=2)
curve(ax, B_UCS_MID, "#9a9a9a", 1.2, ls=DASH, z=2)
curve(ax, B_UCS_DARK, BLACK, 1.2, ls=DASH, z=2)
curve(ax, B_TD02, LIGHT, 2.2, z=3)
curve(ax, B_TD07, MID, 2.1, z=3)
curve(ax, B_TD13, BLACK, 2.1, z=3)
for x, y in B_MARK_OPEN:
    ax.plot([x], [y], marker="s", ms=8, mfc="white", mec=BLACK, mew=1.3, zorder=6)
for x, y in B_MARK_FILLED:
    ax.plot([x], [y], marker="s", ms=8, color=BLACK, zorder=6)
trend_arrow(ax, (23.75, 0.764), (37.9, 0.369), (31.6, 0.608), (29.4, 0.56), -47.5)
td_labels(ax, [(6.35, 0.916), (16.5, 0.686), (26.5, 0.378)])
ucs_note(ax, 0.035, [(21.9, 0.091), (24.9, 0.139), (29.4, 0.234)])
frame(ax, "B")

# ---------------------------------------------------------------- panel C
ax = axC
litho(ax, C_LITHO_END, 1.041,
      targets=[(33.1, 0.955), (35.2, 0.908), (38.6, 0.808)],
      starts=[(32.3, 1.025), (32.6, 1.025), (33.4, 1.025)])
curve(ax, C_UCS_LIGHT, LIGHT, 1.2, ls=DASH, z=2)
curve(ax, C_UCS_MID, "#9a9a9a", 1.2, ls=DASH, z=2)
curve(ax, C_UCS_DARK, BLACK, 1.2, ls=DASH, z=2)
curve(ax, C_TD02, LIGHT, 2.2, z=3)
curve(ax, C_TD07, MID, 2.1, z=3)
curve(ax, C_TD13, BLACK, 2.1, z=3)
for x, y in C_MARK_FILLED:
    ax.plot([x], [y], marker="s", ms=8, color=BLACK, zorder=6)
trend_arrow(ax, (12.85, 0.826), (27.0, 0.428), (20.5, 0.674), (18.3, 0.619), -47.5)
td_labels(ax, [(9.85, 0.908), (7.75, 0.618), (9.85, 0.437)])
ucs_note(ax, 0.04, [(22.0, 0.087), (24.9, 0.139), (29.4, 0.234)])
frame(ax, "C")
ax.set_xlabel("Reservoir Depletion (%)", fontsize=13, labelpad=17)

fig.savefig("out.png", dpi=100)
